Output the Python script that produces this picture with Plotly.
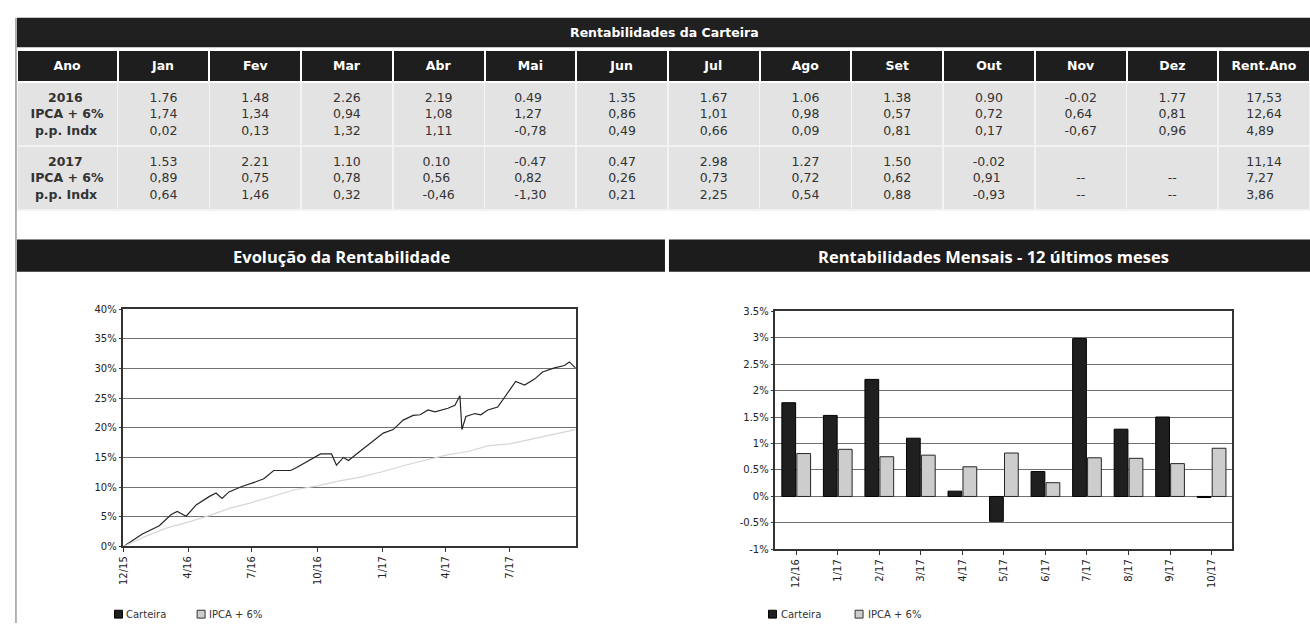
import plotly.graph_objects as go

W, H = 1310, 629

# ---------------- Tabela: Rentabilidades da Carteira ----------------
colunas = ["Ano", "Jan", "Fev", "Mar", "Abr", "Mai", "Jun", "Jul", "Ago", "Set", "Out", "Nov", "Dez", "Rent.Ano"]
anos = ["2016", "2017"]
rotulos_linhas = ["IPCA + 6%", "p.p. Indx"]

carteira_2016 = [1.76, 1.48, 2.26, 2.19, 0.49, 1.35, 1.67, 1.06, 1.38, 0.90, -0.02, 1.77]
ipca_2016 = [1.74, 1.34, 0.94, 1.08, 1.27, 0.86, 1.01, 0.98, 0.57, 0.72, 0.64, 0.81]
ppindx_2016 = [0.02, 0.13, 1.32, 1.11, -0.78, 0.49, 0.66, 0.09, 0.81, 0.17, -0.67, 0.96]
rent_ano_2016 = [17.53, 12.64, 4.89]

carteira_2017 = [1.53, 2.21, 1.10, 0.10, -0.47, 0.47, 2.98, 1.27, 1.50, -0.02, None, None]
ipca_2017 = [0.89, 0.75, 0.78, 0.56, 0.82, 0.26, 0.73, 0.72, 0.62, 0.91, None, None]
ppindx_2017 = [0.64, 1.46, 0.32, -0.46, -1.30, 0.21, 2.25, 0.54, 0.88, -0.93, None, None]
rent_ano_2017 = [11.14, 7.27, 3.86]

# ---------------- Evolução da Rentabilidade (acumulada, %) ----------------
# x = pregão (dia útil) desde 12/15
evol_dia = [0, 19, 36, 48, 54, 63, 73, 86, 93, 99, 106, 119, 133, 141, 151, 168, 174, 184, 198, 209,
            214, 221, 226, 238, 251, 261, 271, 281, 291, 298, 306, 313, 326, 333, 338, 340, 344, 353,
            359, 366, 376, 386, 394, 403, 413, 421, 433, 443, 448, 454]
evol_carteira = [0, 2.1, 3.5, 5.4, 5.9, 5.1, 7.0, 8.4, 9.0, 8.1, 9.2, 10.1, 10.9, 11.4, 12.8, 12.8, 13.3,
                 14.2, 15.6, 15.6, 13.7, 15.0, 14.5, 16.1, 17.8, 19.1, 19.7, 21.3, 22.1, 22.2, 23.0, 22.7,
                 23.3, 23.8, 25.4, 19.7, 21.9, 22.4, 22.2, 23.0, 23.5, 26.0, 27.8, 27.2, 28.2, 29.4, 30.1,
                 30.5, 31.1, 30.1]
ipca_dia = [0, 22, 43, 65, 86, 108, 129, 151, 173, 195, 216, 238, 260, 281, 303, 324, 346, 367, 388,
            410, 432, 454]
ipca_acum = [0, 1.7, 3.1, 4.1, 5.2, 6.5, 7.4, 8.5, 9.6, 10.2, 11.0, 11.7, 12.6, 13.6, 14.5, 15.4, 16.0,
             17.0, 17.3, 18.1, 19.0, 19.7]
evol_tick_dias = [0, 65, 129, 195, 260, 324, 388]
evol_tick_rotulos = ["12/15", "4/16", "7/16", "10/16", "1/17", "4/17", "7/17"]
evol_y_ticks = [0, 5, 10, 15, 20, 25, 30, 35, 40]
evol_y_rotulos = ["0%", "5%", "10%", "15%", "20%", "25%", "30%", "35%", "40%"]

# ---------------- Rentabilidades Mensais - 12 últimos meses ----------------
meses_12 = ["12/16", "1/17", "2/17", "3/17", "4/17", "5/17", "6/17", "7/17", "8/17", "9/17", "10/17"]
carteira_mensal = [1.77, 1.53, 2.21, 1.10, 0.10, -0.47, 0.47, 2.98, 1.27, 1.50, -0.02]
ipca_mensal = [0.81, 0.89, 0.75, 0.78, 0.56, 0.82, 0.26, 0.73, 0.72, 0.62, 0.91]
mens_y_ticks = [-1, -0.5, 0, 0.5, 1, 1.5, 2, 2.5, 3, 3.5]
mens_y_rotulos = ["-1%", "-0.5%", "0%", "0.5%", "1%", "1.5%", "2%", "2.5%", "3%", "3.5%"]

serie_nomes = ["Carteira", "IPCA + 6%"]


def px(x):
    return x / W


def py(y):
    return 1 - y / H


def fmt(v, sep, vazio):
    if v is None:
        return vazio
    return f"{v:.2f}".replace(".", sep)


NB = "\u00a0"
# plotly tables left-align the lines of a multi-line cell, so the shorter
# labels get a leading no-break-space indent to look centred.
indent_rotulo = {"ano": NB * 4, rotulos_linhas[0]: "", rotulos_linhas[1]: NB}

linhas_por_ano = [
    (anos[0], carteira_2016, ipca_2016, ppindx_2016, rent_ano_2016),
    (anos[1], carteira_2017, ipca_2017, ppindx_2017, rent_ano_2017),
]
cells = [[
    "<br>".join([f"<b>{indent_rotulo['ano']}{a}</b>"] +
                [f"<b>{indent_rotulo[r]}{r}</b>" for r in rotulos_linhas])
    for a, *_ in linhas_por_ano
]]
for i in range(12):
    col = []
    for a, c, ip, pp, ra in linhas_por_ano:
        col.append(fmt(c[i], ".", " ") + "<br>" + fmt(ip[i], ",", "--") + "<br>" + fmt(pp[i], ",", "--"))
    cells.append(col)
cells.append(["<br>".join(fmt(v, ",", "--") for v in ra) for *_, ra in linhas_por_ano])

fig = go.Figure()

fig.add_trace(go.Table(
    domain=dict(x=[px(11), 1.0], y=[0.45, py(45)]),
    columnwidth=[101] + [92] * 13,
    header=dict(
        values=[f"<b>{c}</b>" for c in colunas],
        fill_color="#1e1e1e",
        font=dict(color="white", size=12.5, family="DejaVu Sans"),
        line=dict(color="white", width=2),
        align="center",
        height=32,
    ),
    cells=dict(
        values=cells,
        fill_color="#e3e3e3",
        font=dict(color="#333333", size=12.5, family="DejaVu Sans"),
        line=dict(color="#f3f3f3", width=1.5),
        align="center",
        height=64,
    ),
))

# line chart
fig.add_trace(go.Scatter(x=evol_dia, y=evol_carteira, mode="lines", name=serie_nomes[0],
                         line=dict(color="#262626", width=1.2), xaxis="x", yaxis="y", showlegend=False))
fig.add_trace(go.Scatter(x=ipca_dia, y=ipca_acum, mode="lines", name=serie_nomes[1],
                         line=dict(color="#d6d6d6", width=1.2), xaxis="x", yaxis="y", showlegend=False))

# bar chart
fig.add_trace(go.Bar(x=meses_12, y=carteira_mensal, name=serie_nomes[0], xaxis="x2", yaxis="y2",
                     marker=dict(color="#1f1f1f", line=dict(color="#000000", width=1)), showlegend=False))
fig.add_trace(go.Bar(x=meses_12, y=ipca_mensal, name=serie_nomes[1], xaxis="x2", yaxis="y2",
                     marker=dict(color="#cdcdcd", line=dict(color="#262626", width=1)), showlegend=False))

axis_font = dict(family="DejaVu Sans", size=10, color="#222222")
grid_col = "#707070"

fig.update_layout(
    width=W, height=H,
    margin=dict(l=0, r=0, t=0, b=0),
    paper_bgcolor="white",
    plot_bgcolor="white",
    barmode="group",
    bargap=0.28,
    bargroupgap=0.08,
    xaxis=dict(domain=[px(118), px(573)], range=[0, 455], tickvals=evol_tick_dias, ticktext=evol_tick_rotulos,
               tickangle=-90, ticks="outside", ticklen=4, tickcolor="#333", showgrid=False, zeroline=False,
               showline=True, mirror=True, linecolor="#333", linewidth=1.5, tickfont=axis_font, anchor="y"),
    yaxis=dict(domain=[py(551), py(309)], range=[0, 40], tickvals=evol_y_ticks, ticktext=evol_y_rotulos,
               ticks="outside", ticklen=3, tickcolor="#333", showgrid=True, gridcolor=grid_col, gridwidth=1,
               zeroline=False, showline=True, mirror=True, linecolor="#333", linewidth=1.5,
               tickfont=axis_font, anchor="x"),
    xaxis2=dict(domain=[px(773), px(1232)], type="category", tickangle=-90, ticks="outside", ticklen=4,
                tickcolor="#333", showgrid=False, zeroline=False, showline=True, mirror=True,
                linecolor="#333", linewidth=1.5, tickfont=axis_font, anchor="y2"),
    yaxis2=dict(domain=[py(554), py(311)], range=[-1, 3.5], tickvals=mens_y_ticks, ticktext=mens_y_rotulos,
                ticks="outside", ticklen=3, tickcolor="#333", showgrid=True, gridcolor=grid_col, gridwidth=1,
                zeroline=False, showline=True, mirror=True, linecolor="#333", linewidth=1.5,
                tickfont=axis_font, anchor="x2"),
)

shapes = [
    # title bar of table
    dict(type="rect", xref="paper", yref="paper", x0=px(11), x1=1.0, y0=py(42), y1=py(12),
         fillcolor="#202020", line=dict(width=0), layer="below"),
    # section headers
    dict(type="rect", xref="paper", yref="paper", x0=px(11), x1=px(662), y0=py(271), y1=py(238),
         fillcolor="#1c1c1c", line=dict(width=0), layer="below"),
    dict(type="rect", xref="paper", yref="paper", x0=px(666), x1=1.0, y0=py(271), y1=py(238),
         fillcolor="#1c1c1c", line=dict(width=0), layer="below"),
    # left border
    dict(type="line", xref="paper", yref="paper", x0=px(10), x1=px(10), y0=0, y1=py(12),
         line=dict(color="#9a9a9a", width=1.5)),
]


def legend_boxes(x_left, x_second):
    return [
        dict(type="rect", xref="paper", yref="paper", x0=px(x_left), x1=px(x_left + 8), y0=py(624), y1=py(616),
             fillcolor="#1f1f1f", line=dict(color="#000", width=1)),
        dict(type="rect", xref="paper", yref="paper", x0=px(x_second), x1=px(x_second + 8), y0=py(624),
             y1=py(616), fillcolor="#cdcdcd", line=dict(color="#333", width=1)),
    ]


shapes += legend_boxes(109, 192)
shapes += legend_boxes(766, 853)

annotations = [
    dict(text="<b>Rentabilidades da Carteira</b>", x=px(662), y=py(27), xref="paper", yref="paper",
         showarrow=False, font=dict(family="DejaVu Sans", size=12.5, color="white"), xanchor="center",
         yanchor="middle"),
    dict(text="<b>Evolução da Rentabilidade</b>", x=px(337), y=py(255), xref="paper", yref="paper",
         showarrow=False, font=dict(family="Open Sans", size=16.5, color="white"), xanchor="center",
         yanchor="middle"),
    dict(text="<b>Rentabilidades Mensais - 12 últimos meses</b>", x=px(992), y=py(255), xref="paper",
         yref="paper", showarrow=False, font=dict(family="Open Sans", size=16.5, color="white"),
         xanchor="center", yanchor="middle"),
]
for xa, xb in [(119, 202), (777, 864)]:
    annotations.append(dict(text=serie_nomes[0], x=px(xa), y=py(620), xref="paper", yref="paper",
                            showarrow=False, xanchor="left", yanchor="middle",
                            font=dict(family="DejaVu Sans", size=10, color="#333")))
    annotations.append(dict(text=serie_nomes[1], x=px(xb), y=py(620), xref="paper", yref="paper",
                            showarrow=False, xanchor="left", yanchor="middle",
                            font=dict(family="DejaVu Sans", size=10, color="#333")))

fig.update_layout(shapes=shapes, annotations=annotations)

fig.write_html(
    "out.html",
    config={"displayModeBar": False},
    post_script="document.body.style.margin='0';document.body.style.padding='0';"
                "document.body.style.overflow='hidden';",
)
